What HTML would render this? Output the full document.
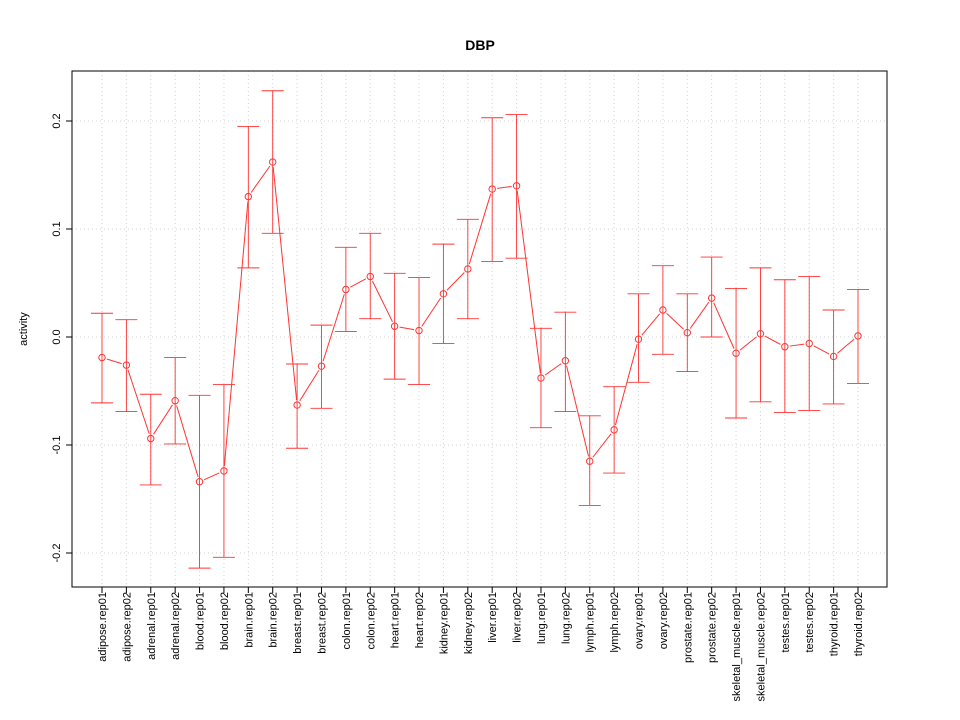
<!DOCTYPE html>
<html><head><meta charset="utf-8"><style>body{margin:0;background:#fff}svg{display:block;font-family:"Liberation Sans",sans-serif}</style></head>
<body>
<svg id="chart" width="960" height="720">
<rect width="960" height="720" fill="#fff"/>
<text x="480" y="50" text-anchor="middle" font-size="14" font-weight="bold">DBP</text>
<text transform="translate(27,329) rotate(-90)" text-anchor="middle" font-size="11">activity</text>
<g id="grid"></g><g id="axes"></g><g id="marks"></g>
</svg>
<script>
const categories=["adipose.rep01","adipose.rep02","adrenal.rep01","adrenal.rep02","blood.rep01","blood.rep02","brain.rep01","brain.rep02","breast.rep01","breast.rep02","colon.rep01","colon.rep02","heart.rep01","heart.rep02","kidney.rep01","kidney.rep02","liver.rep01","liver.rep02","lung.rep01","lung.rep02","lymph.rep01","lymph.rep02","ovary.rep01","ovary.rep02","prostate.rep01","prostate.rep02","skeletal_muscle.rep01","skeletal_muscle.rep02","testes.rep01","testes.rep02","thyroid.rep01","thyroid.rep02"];
const values=[-0.019,-0.026,-0.094,-0.059,-0.134,-0.124,0.130,0.162,-0.063,-0.027,0.044,0.056,0.010,0.006,0.040,0.063,0.137,0.140,-0.038,-0.022,-0.115,-0.086,-0.002,0.025,0.004,0.036,-0.015,0.003,-0.009,-0.006,-0.018,0.001];
const upper=[0.022,0.016,-0.053,-0.019,-0.054,-0.044,0.195,0.228,-0.025,0.011,0.083,0.096,0.059,0.055,0.086,0.109,0.203,0.206,0.008,0.023,-0.073,-0.046,0.040,0.066,0.040,0.074,0.045,0.064,0.053,0.056,0.025,0.044];
const lower=[-0.061,-0.069,-0.137,-0.099,-0.214,-0.204,0.064,0.096,-0.103,-0.066,0.005,0.017,-0.039,-0.044,-0.006,0.017,0.070,0.073,-0.084,-0.069,-0.156,-0.126,-0.042,-0.016,-0.032,0.000,-0.075,-0.060,-0.070,-0.068,-0.062,-0.043];
const yTicks=[-0.2,-0.1,0.0,0.1,0.2];
const yTickLabels=["-0.2","-0.1","0.0","0.1","0.2"];
const NS="http://www.w3.org/2000/svg";
const L=72,R=887,T=71,B=587;
const xs=i=>102+i*(858-102)/(categories.length-1);
const ys=v=>337-v*1080;
function mk(tag,attrs,parent){const e=document.createElementNS(NS,tag);for(const k in attrs)e.setAttribute(k,attrs[k]);parent.appendChild(e);return e;}
const grid=document.getElementById('grid'),axes=document.getElementById('axes'),marks=document.getElementById('marks');
categories.forEach((c,i)=>{
 const g=mk('line',{x1:xs(i),x2:xs(i),y1:T,y2:B,stroke:'#d3d3d3','stroke-dasharray':'1,3'},grid);
 
 
 const t=mk('line',{x1:xs(i),x2:xs(i),y1:B,y2:B+6,stroke:'#000'},axes);
 
 
 const lb=mk('text',{transform:`translate(${xs(i)+4},${B+5}) rotate(-90)`,'text-anchor':'end','font-size':'11'},axes);
 lb.textContent=c;
 
 
});
yTicks.forEach((v,i)=>{
 const g=mk('line',{x1:L,x2:R,y1:ys(v),y2:ys(v),stroke:'#d3d3d3','stroke-dasharray':'1,3'},grid);
 
 
 const t=mk('line',{x1:L-6,x2:L,y1:ys(v),y2:ys(v),stroke:'#000'},axes);
 
 
 const lb=mk('text',{transform:`translate(${L-12},${ys(v)}) rotate(-90)`,'text-anchor':'middle','font-size':'11'},axes);
 lb.textContent=yTickLabels[i];
 
 
});
const frame=mk('rect',{x:L,y:T,width:R-L,height:B-T,fill:'none',stroke:'#000'},axes);


for(let i=0;i<values.length-1;i++){
 const x1=xs(i),y1=ys(values[i]),x2=xs(i+1),y2=ys(values[i+1]);
 const d=Math.hypot(x2-x1,y2-y1),g=5;
 if(d<=2*g)continue;
 const ux=(x2-x1)/d,uy=(y2-y1)/d;
 const s=mk('line',{x1:x1+ux*g,y1:y1+uy*g,x2:x2-ux*g,y2:y2-uy*g,stroke:'#f33'},marks);
 
 
}
values.forEach((v,i)=>{
 const x=xs(i);
 const eb=mk('path',{d:`M${x},${ys(lower[i])}V${ys(upper[i])}M${x-11},${ys(lower[i])}H${x+11}M${x-11},${ys(upper[i])}H${x+11}`,stroke:'#f33',fill:'none','stroke-width':0.9},marks);
 
 
 const p=mk('circle',{cx:x,cy:ys(v),r:3.2,fill:'none',stroke:'#f33'},marks);
 
 
});
</script>
</body></html>
